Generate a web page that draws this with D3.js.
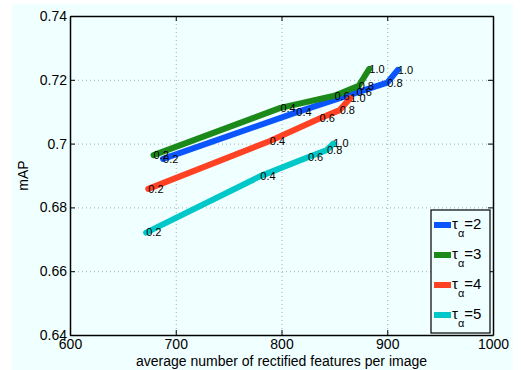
<!DOCTYPE html>
<html>
<head>
<meta charset="utf-8">
<script src="https://cdn.jsdelivr.net/npm/d3@7"></script>
<style>
  body { margin: 0; background: #fff; }
  svg { display: block; font-family: 'Liberation Sans', Arial, sans-serif; }
</style>
</head>
<body>
<svg id="chart" width="521" height="370"></svg>
<script>
// values
const fractions = ['0.2', '0.4', '0.6', '0.8', '1.0'];
const tauLabels = ['2', '3', '4', '5'];
const seriesColors = ['#0b55ff', '#1b8a1b', '#ff4224', '#00c8c8'];

const features2 = [688, 814, 871, 900, 910];
const map2 = [0.6952, 0.7098, 0.7160, 0.7191, 0.7231];
const features3 = [679, 799, 850, 873, 883];
const map3 = [0.6964, 0.7112, 0.7150, 0.7181, 0.7234];
const features4 = [674, 789, 836, 855, 865];
const map4 = [0.6858, 0.7008, 0.7079, 0.7105, 0.7142];
const features5 = [672, 780, 825, 843, 849];
const map5 = [0.6721, 0.6898, 0.6957, 0.6980, 0.7000];

const xTicks = [600, 700, 800, 900, 1000];
const yTicks = [0.64, 0.66, 0.68, 0.7, 0.72, 0.74];

const allFeatures = [features2, features3, features4, features5];
const allMaps = [map2, map3, map4, map5];

const svg = d3.select('#chart');
const plotLeft = 70, plotRight = 493, plotTop = 16, plotBottom = 335;

svg.append('rect')
    .attr('x', 12).attr('y', 4)
    .attr('width', 501).attr('height', 366)
    .style('fill', '#f0ffff');

const x = d3.scaleLinear().domain([600, 1000]).range([plotLeft, plotRight]);
const y = d3.scaleLinear().domain([0.64, 0.74]).range([plotBottom, plotTop]);

// dotted grid
const grid = svg.append('g')
    .style('stroke', '#aaa')
    .style('stroke-width', 1)
    .style('stroke-dasharray', '1,3');
grid.selectAll('line.gx')
    .data(xTicks.slice(1, -1))
    .enter().append('line')
    .attr('x1', d => x(d) + 0.5).attr('x2', d => x(d) + 0.5)
    .attr('y1', plotTop).attr('y2', plotBottom);
grid.selectAll('line.gy')
    .data(yTicks.slice(1, -1))
    .enter().append('line')
    .attr('x1', plotLeft).attr('x2', plotRight)
    .attr('y1', d => y(d) + 0.5).attr('y2', d => y(d) + 0.5);

// axes
const fmtY = d => d === 0.7 ? '0.7' : d3.format('.2f')(d);
const xAxis = svg.append('g')
    .attr('transform', `translate(0,${plotBottom})`)
    .call(d3.axisBottom(x).tickValues(xTicks).tickFormat(d3.format('d'))
        .tickSizeInner(-5).tickSizeOuter(0).tickPadding(6));
const yAxis = svg.append('g')
    .attr('transform', `translate(${plotLeft},0)`)
    .call(d3.axisLeft(y).tickValues(yTicks).tickFormat(fmtY).tickSizeInner(-5).tickSizeOuter(0).tickPadding(3));
const xAxisTop = svg.append('g')
    .attr('transform', `translate(0,${plotTop})`)
    .call(d3.axisTop(x).tickValues(xTicks).tickSizeInner(-5).tickSizeOuter(0).tickFormat(''));
const yAxisRight = svg.append('g')
    .attr('transform', `translate(${plotRight},0)`)
    .call(d3.axisRight(y).tickValues(yTicks).tickSizeInner(-5).tickSizeOuter(0).tickFormat(''));

[xAxis, yAxis, xAxisTop, yAxisRight].forEach(g => {
    g.select('.domain').style('stroke', '#000').style('stroke-width', 1.5);
    g.selectAll('.tick line').style('stroke', '#000');
    g.selectAll('.tick text').style('font-size', '14px').style('fill', '#000')
        .style('font-family', "'Liberation Sans', Arial, sans-serif");
});
xAxis.selectAll('.tick text').attr('dy', '0.6em');

svg.append('text')
    .attr('x', (plotLeft + plotRight) / 2).attr('y', 366)
    .attr('text-anchor', 'middle')
    .style('font-size', '14px')
    .text('average number of rectified features per image');

svg.append('text')
    .attr('transform', `translate(28,${(plotTop + plotBottom) / 2}) rotate(-90)`)
    .attr('text-anchor', 'middle')
    .style('font-size', '14px')
    .text('mAP');

// series lines
const line = d3.line().x(d => x(d[0])).y(d => y(d[1]));
allFeatures.forEach((feats, i) => {
    const pts = feats.map((f, j) => [f, allMaps[i][j]]);
    svg.append('path')
        .attr('d', line(pts))
        .style('fill', 'none')
        .style('stroke', seriesColors[i])
        .style('stroke-width', 6)
        .style('stroke-linejoin', 'round')
        .style('stroke-linecap', 'round');
});

// point labels
allFeatures.forEach((feats, i) => {
    svg.append('g').selectAll('text')
        .data(feats)
        .enter().append('text')
        .attr('x', d => x(d))
        .attr('y', (d, j) => y(allMaps[i][j]))
        .attr('dy', '0.35em')
        .style('font-size', '11px')
        .text((d, j) => fractions[j]);
});

// legend
const legend = svg.append('g');
legend.append('rect')
    .attr('x', 431).attr('y', 210)
    .attr('width', 59).attr('height', 123)
    .style('fill', '#f0ffff')
    .style('stroke', '#000')
    .style('stroke-width', 1.2);
tauLabels.forEach((t, i) => {
    const ly = 225 + i * 30;
    legend.append('line')
        .attr('x1', 434).attr('x2', 451)
        .attr('y1', ly).attr('y2', ly)
        .style('stroke', seriesColors[i])
        .style('stroke-width', 6);
    const txt = legend.append('text')
        .attr('x', 452).attr('y', ly + 4)
        .style('font-size', '15px');
    txt.append('tspan').text('τ');
    txt.append('tspan').attr('dy', 8).style('font-size', '11px').text('α');
    txt.append('tspan').attr('dy', -8).text('=' + t);
});
</script>
</body>
</html>
